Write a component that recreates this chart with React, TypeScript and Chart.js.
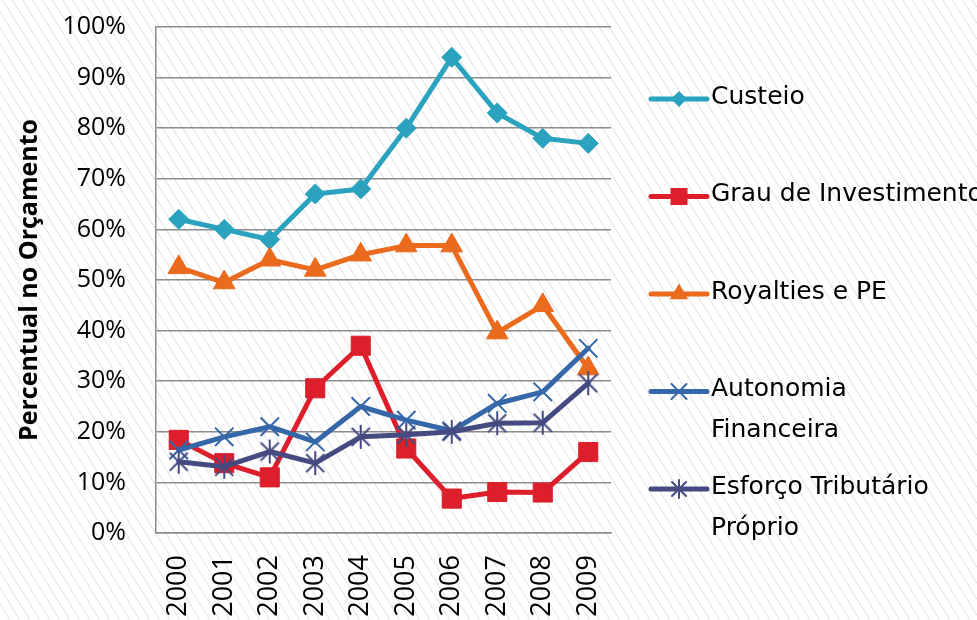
import React, { useEffect, useRef } from 'react';
import { Chart, registerables } from 'chart.js';

Chart.register(...registerables);

const categories = ['2000', '2001', '2002', '2003', '2004', '2005', '2006', '2007', '2008', '2009'];
const custeio = [62, 60, 58, 67, 68, 80, 94, 83, 78, 77];
const grauInvestimento = [18.4, 13.8, 11, 28.6, 37, 16.7, 6.8, 8.1, 8, 16];
const royaltiesPE = [52.5, 49.5, 54, 52, 55, 56.8, 56.8, 39.6, 45, 32.5];
const autonomiaFinanceira = [16.4, 19, 21, 18, 25, 22.3, 20.2, 25.6, 27.9, 36.5];
const esforcoTributario = [14.1, 13.1, 16.1, 13.8, 19, 19.4, 20, 21.7, 21.8, 29.6];

const seriesLabels = [
  ['Custeio'],
  ['Grau de Investimento'],
  ['Royalties e PE'],
  ['Autonomia', 'Financeira'],
  ['Esforço Tributário', 'Próprio'],
];
const seriesColors = ['#2BA3BF', '#DC1F2B', '#EA6A1E', '#3667A8', '#454B80'];
const seriesStyles = ['diamond', 'square', 'triangle', 'x', 'asterisk'];
const yAxisTitle = 'Percentual no Orçamento';

function makeAsterisk(color: string, half: number, vHalf: number, lw: number) {
  const c = document.createElement('canvas');
  const s = Math.ceil(vHalf * 2 + 4);
  c.width = s;
  c.height = s;
  const g = c.getContext('2d')!;
  const m = s / 2;
  g.strokeStyle = color;
  g.lineWidth = lw;
  g.beginPath();
  g.moveTo(m - half, m - half);
  g.lineTo(m + half, m + half);
  g.moveTo(m + half, m - half);
  g.lineTo(m - half, m + half);
  g.moveTo(m, m - vHalf);
  g.lineTo(m, m + vHalf);
  g.stroke();
  return c;
}

function drawMarker(ctx: CanvasRenderingContext2D, style: string, x: number, y: number, color: string) {
  ctx.save();
  ctx.fillStyle = color;
  ctx.strokeStyle = color;
  ctx.lineWidth = 2;
  ctx.beginPath();
  if (style === 'diamond') {
    const h = 8;
    ctx.moveTo(x, y - h);
    ctx.lineTo(x + h, y);
    ctx.lineTo(x, y + h);
    ctx.lineTo(x - h, y);
    ctx.closePath();
    ctx.fill();
  } else if (style === 'square') {
    const h = 8.5;
    ctx.rect(x - h, y - h, 2 * h, 2 * h);
    ctx.fill();
  } else if (style === 'triangle') {
    const r = 10.5;
    ctx.moveTo(x, y - r);
    ctx.lineTo(x + r * 0.866, y + r * 0.5);
    ctx.lineTo(x - r * 0.866, y + r * 0.5);
    ctx.closePath();
    ctx.fill();
  } else if (style === 'x') {
    const h = 7.5;
    ctx.moveTo(x - h, y - h);
    ctx.lineTo(x + h, y + h);
    ctx.moveTo(x + h, y - h);
    ctx.lineTo(x - h, y + h);
    ctx.stroke();
  } else {
    const h = 7;
    const v = 9;
    ctx.moveTo(x - h, y - h);
    ctx.lineTo(x + h, y + h);
    ctx.moveTo(x + h, y - h);
    ctx.lineTo(x - h, y + h);
    ctx.moveTo(x, y - v);
    ctx.lineTo(x, y + v);
    ctx.stroke();
  }
  ctx.restore();
}

const hatchPlugin = {
  id: 'hatchBackground',
  beforeDraw(chart: any) {
    const { ctx, width, height } = chart;
    ctx.save();
    ctx.fillStyle = '#ffffff';
    ctx.fillRect(0, 0, width, height);
    ctx.strokeStyle = '#e0e0e0';
    ctx.lineWidth = 1;
    const slope = 1.6;
    const run = height / slope;
    ctx.beginPath();
    for (let k = -run - 10; k < width + 10; k += 10) {
      ctx.moveTo(k, 0);
      ctx.lineTo(k + run, height);
    }
    ctx.stroke();
    ctx.restore();
  },
};

const legendPlugin = {
  id: 'lineMarkerLegend',
  afterDraw(chart: any) {
    const { ctx, chartArea } = chart;
    const lineX0 = chartArea.right + 40;
    const lineX1 = lineX0 + 56;
    const textX = lineX1 + 4;
    const firstY = chartArea.top + 70;
    const step = 97.5;
    const lineGap = 41;
    ctx.save();
    seriesLabels.forEach((lines, i) => {
      const y = firstY + i * step;
      const color = seriesColors[i];
      ctx.strokeStyle = color;
      ctx.lineWidth = 5;
      ctx.lineCap = 'round';
      ctx.beginPath();
      ctx.moveTo(lineX0, y + 2);
      ctx.lineTo(lineX1, y + 2);
      ctx.stroke();
      drawMarker(ctx, seriesStyles[i], (lineX0 + lineX1) / 2, y + 2, color);
      ctx.fillStyle = '#000000';
      ctx.font = '25px "DejaVu Sans"';
      ctx.textBaseline = 'middle';
      ctx.textAlign = 'left';
      lines.forEach((t, j) => ctx.fillText(t, textX, y + j * lineGap));
    });
    ctx.restore();
  },
};

export default function App() {
  const ref = useRef<HTMLCanvasElement | null>(null);

  useEffect(() => {
    if (!ref.current) return;
    const asterisk = makeAsterisk(seriesColors[4], 9, 12, 2);
    const seriesData = [custeio, grauInvestimento, royaltiesPE, autonomiaFinanceira, esforcoTributario];
    const pointStyles: any[] = ['rectRot', 'rect', 'triangle', 'crossRot', asterisk];
    const radii = [10, 13.5, 12.5, 13, 12];
    const chart = new Chart(ref.current, {
      type: 'line',
      data: {
        labels: categories,
        datasets: seriesData.map((d, i) => ({
          label: seriesLabels[i].join(' '),
          data: d,
          borderColor: seriesColors[i],
          backgroundColor: seriesColors[i],
          borderWidth: 5,
          borderJoinStyle: 'round',
          borderCapStyle: 'round',
          pointStyle: pointStyles[i],
          pointRadius: radii[i],
          pointBorderWidth: i >= 3 ? 2 : 1,
          pointBorderColor: seriesColors[i],
          pointBackgroundColor: seriesColors[i],
          tension: 0,
          fill: false,
          order: 5 - i,
        })),
      },
      options: {
        responsive: false,
        animation: false,
        events: [],
        layout: { padding: { left: 0, top: 27, right: 366, bottom: 0 } },
        plugins: {
          legend: { display: false },
          tooltip: { enabled: false },
        },
        scales: {
          x: {
            type: 'category',
            offset: true,
            grid: { display: false, drawTicks: false },
            border: { display: true, color: '#8c8c8c', width: 1.5 },
            ticks: {
              minRotation: 90,
              maxRotation: 90,
              padding: 22,
              color: '#000000',
              font: { family: '"Open Sans"', size: 27 },
            },
            afterFit(scale: any) {
              scale.height = 87;
            },
          },
          y: {
            min: 0,
            max: 100,
            grid: {
              color: '#8c8c8c',
              lineWidth: 1.5,
              drawTicks: true,
              tickLength: 30,
              tickColor: 'rgba(0,0,0,0)',
            },
            border: { display: true, color: '#8c8c8c', width: 1.5 },
            ticks: {
              stepSize: 10,
              padding: 0,
              color: '#000000',
              font: { family: '"Open Sans"', size: 25 },
              callback: (v: any) => v + '%',
            },
            title: {
              display: true,
              text: yAxisTitle,
              color: '#000000',
              font: { family: '"Open Sans"', size: 25, weight: 'bold' },
              padding: { top: 15, bottom: 0 },
            },
            afterFit(scale: any) {
              scale.width = 156;
            },
          },
        },
      },
      plugins: [hatchPlugin, legendPlugin],
    });
    return () => chart.destroy();
  }, []);

  return (
    <div style={{ position: 'fixed', left: 0, top: 0, width: 977, height: 620, overflow: 'hidden' }}>
      <canvas ref={ref} width={977} height={620} style={{ display: 'block' }} />
    </div>
  );
}
